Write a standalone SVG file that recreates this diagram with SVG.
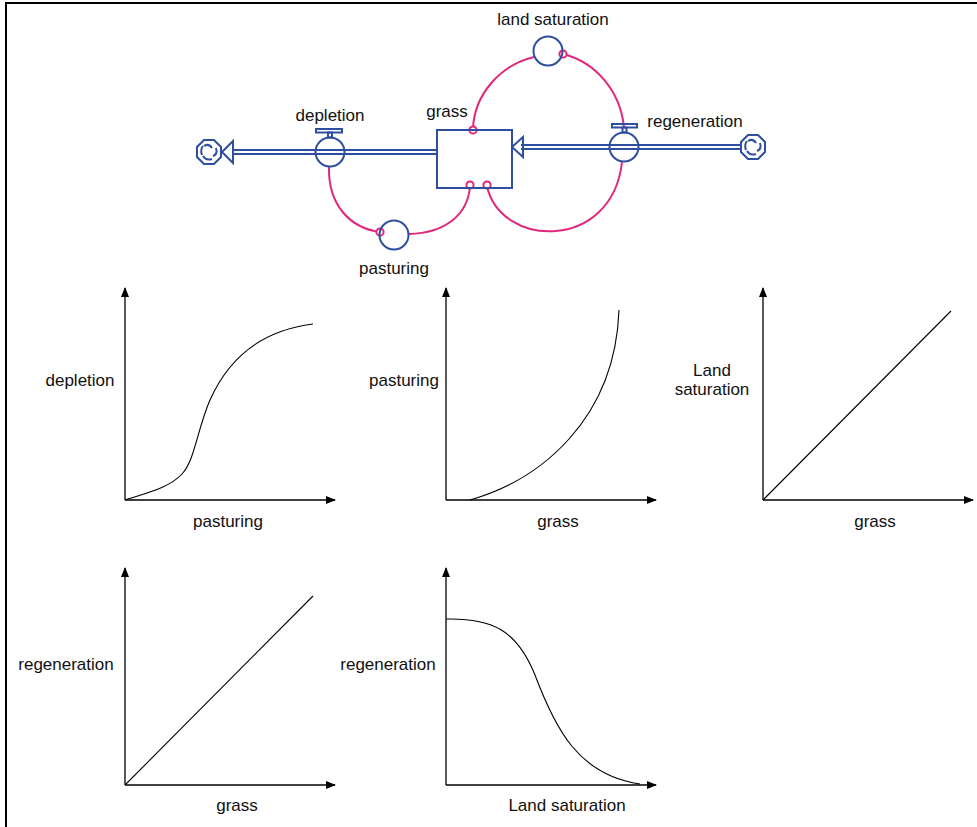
<svg xmlns="http://www.w3.org/2000/svg" width="977" height="827" viewBox="0 0 977 827">
<defs>
<style>
text{font-family:"Liberation Sans",Arial,sans-serif;font-size:17px;fill:#111;text-anchor:middle}
.b{stroke:#2e4f9f;stroke-width:2;fill:none}
.bp{stroke:#2e4f9f;stroke-width:1.8;fill:none}
.c{stroke:#e2287b;stroke-width:2;fill:none}
.m{stroke:#e2287b;stroke-width:2;fill:#fff}
.ax{stroke:#000;stroke-width:1.3;fill:none}
.cv{stroke:#000;stroke-width:1.1;fill:none}
</style>
<marker id="ah" markerWidth="10" markerHeight="8" refX="9" refY="4" orient="auto" markerUnits="userSpaceOnUse">
<path d="M0,0 L10,4 L0,8 Z" fill="#000"/>
</marker>
<g id="cloud">
<path class="b" stroke-width="2.2" d="M-5,-12 H5 L8,-9 L12,-5 V5 L9,8 L5,12 H-5 L-9,8 L-12,5 V-5 L-8,-9 Z"/>
<path d="M-5,-6 q5,-3 8,2 M7,-4 q2,6 -3,8 M3,7 q-6,2 -9,-3 M-7,3 q-2,-5 1,-9" class="b" stroke-width="1.8"/>
</g>
</defs>
<rect x="6" y="3" width="980" height="840" fill="#fff" stroke="#000" stroke-width="2"/>

<g id="connectors">
<path class="bp" d="M437,150 H232 M437,154 H232"/>
<path class="bp" d="M741,145 H521 M741,149 H521"/>
<path class="b" d="M233,141 L222,152 L233,163 Z" fill="#fff"/>
<path class="b" d="M523,137 L512,147 L523,157 Z" fill="#fff"/>
<path class="c" d="M473,129 C474,95 500,65 534,57"/>
<path class="c" d="M563,54 C595,62 620,90 624,127"/>
<path class="c" d="M470,186 C468,215 445,233 409,234"/>
<path class="c" d="M380,232 C350,228 328,205 329,167"/>
<path class="c" d="M487,186 C500,248 612,252 622,162"/>
<circle class="m" cx="473" cy="130" r="3.6"/>
<circle class="m" cx="563" cy="54" r="3.6"/>
<circle class="m" cx="470" cy="185" r="3.6"/>
<circle class="m" cx="487" cy="185" r="3.6"/>
<circle class="m" cx="380" cy="232" r="3.6"/>
</g>

<g id="grass">
<rect x="437" y="130" width="75" height="58" class="b"/>
<text x="447" y="117">grass</text>
</g>
<g id="depletion">
<circle cx="330" cy="152" r="14.5" class="b"/>
<rect x="316" y="129" width="26" height="3.5" class="b" stroke-width="1.8"/>
<rect x="328" y="132.5" width="4" height="5" class="b" stroke-width="1.5"/>
<text x="330" y="121">depletion</text>
</g>
<g id="regeneration">
<circle cx="624" cy="147" r="14.5" class="b"/>
<rect x="612" y="124" width="25" height="3.5" class="b" stroke-width="1.8"/>
<rect x="622.5" y="127.5" width="4" height="5" class="b" stroke-width="1.5"/>
<text x="695" y="127">regeneration</text>
</g>
<g id="land_saturation">
<circle cx="548" cy="51" r="14.5" class="b"/>
<text x="553" y="25">land saturation</text>
</g>
<g id="pasturing">
<circle cx="394" cy="235" r="14.5" class="b"/>
<text x="394" y="274">pasturing</text>
</g>
<g id="source_cloud"><use href="#cloud" x="753" y="147"/></g>
<g id="sink_cloud"><use href="#cloud" x="209" y="152"/></g>

<g id="graph1">
<path class="ax" d="M125,500 V288" marker-end="url(#ah)"/>
<path class="ax" d="M125,500 H335" marker-end="url(#ah)"/>
<path class="cv" d="M125,500 C150,492 170,487 182,474 C195,460 197,430 210,400 C230,355 265,330 313,324"/>
<text x="80" y="386">depletion</text>
<text x="228" y="527">pasturing</text>
</g>
<g id="graph2">
<path class="ax" d="M446,500 V288" marker-end="url(#ah)"/>
<path class="ax" d="M446,500 H656" marker-end="url(#ah)"/>
<path class="cv" d="M470,500 C540,480 615,420 619,310"/>
<text x="404" y="386">pasturing</text>
<text x="558" y="527">grass</text>
</g>
<g id="graph3">
<path class="ax" d="M763,500 V288" marker-end="url(#ah)"/>
<path class="ax" d="M763,500 H973" marker-end="url(#ah)"/>
<path class="cv" d="M763,500 L951,311"/>
<text x="712" y="376">Land</text>
<text x="712" y="395">saturation</text>
<text x="875" y="527">grass</text>
</g>
<g id="graph4">
<path class="ax" d="M125,785 V568" marker-end="url(#ah)"/>
<path class="ax" d="M125,785 H335" marker-end="url(#ah)"/>
<path class="cv" d="M125,785 L313,596"/>
<text x="66" y="670">regeneration</text>
<text x="237" y="811">grass</text>
</g>
<g id="graph5">
<path class="ax" d="M446,785 V568" marker-end="url(#ah)"/>
<path class="ax" d="M446,785 H656" marker-end="url(#ah)"/>
<path class="cv" d="M446,619 C492,618 517,630 535,675 C555,728 578,775 640,784"/>
<text x="388" y="670">regeneration</text>
<text x="567" y="811">Land saturation</text>
</g>
</svg>
